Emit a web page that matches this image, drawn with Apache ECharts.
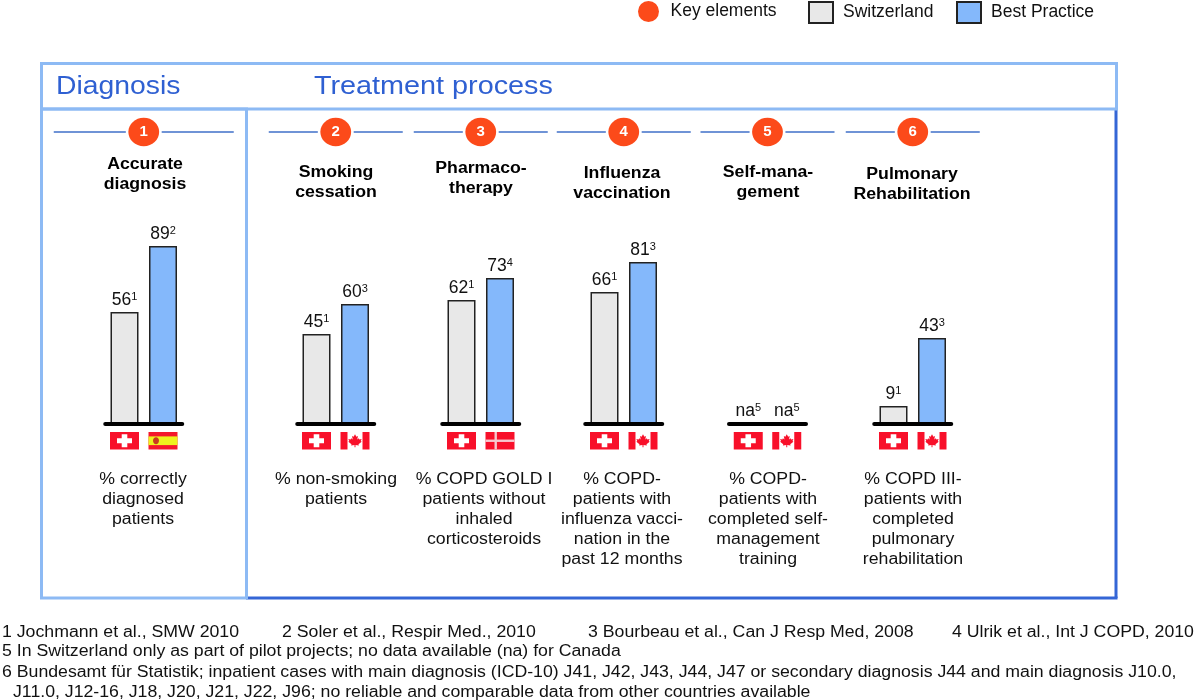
<!DOCTYPE html>
<html><head><meta charset="utf-8">
<style>html,body{margin:0;padding:0;background:#fff}#c{width:1200px;height:700px}</style>
<script src="https://cdn.jsdelivr.net/npm/echarts@6/dist/echarts.min.js"></script>
</head><body><div id="c"></div>
<script>
const panelNames = [['Accurate','diagnosis'],['Smoking','cessation'],['Pharmaco-','therapy'],['Influenza','vaccination'],['Self-mana-','gement'],['Pulmonary','Rehabilitation']];
const switzerlandValues = [56,45,62,66,null,9];
const bestPracticeValues = [89,60,73,81,null,43];
const switzerlandRefs = ['1','1','1','1','5','1'];
const bestPracticeRefs = ['2','3','4','3','5','3'];
const bestPracticeCountries = ['Spain','Canada','Denmark','Canada','Canada','Canada'];
const measures = [
 ['% correctly','diagnosed','patients'],
 ['% non-smoking','patients'],
 ['% COPD GOLD I','patients without','inhaled','corticosteroids'],
 ['% COPD-','patients with','influenza vacci-','nation in the','past 12 months'],
 ['% COPD-','patients with','completed self-','management','training'],
 ['% COPD III-','patients with','completed','pulmonary','rehabilitation']
];
const footnotes = [
 ['1 Jochmann et al., SMW 2010',2,633],['2 Soler et al., Respir Med., 2010',282,633],
 ['3 Bourbeau et al., Can J Resp Med, 2008',588,633],['4 Ulrik et al., Int J COPD, 2010',952,633],
 ['5 In Switzerland only as part of pilot projects; no data available (na) for Canada',2,652],
 ['6 Bundesamt für Statistik; inpatient cases with main diagnosis (ICD-10) J41, J42, J43, J44, J47 or secondary diagnosis J44 and main diagnosis J10.0,',2,673],
 ['J11.0, J12-16, J18, J20, J21, J22, J96; no reliable and comparable data from other countries available',13,693]
];

const FONT='"Liberation Sans", Arial, sans-serif';
const ORANGE='#fc4a1a', LIGHT='#8dbaf4', DARK='#3566d6', GREY='#e8e8e8', BLUE='#84b8fb', RED='#f8102a';
const gridLefts=[105.25,297.25,442.25,585.25,729,874.25];
const nameX=[145,336,481,622,768,912];
const nameY=[164,172,168,173,172,174];
const descX=[143,336,484,622,768,913];
const BASE=424, HEADY=132, WIDE=1.106;

const leaf=[[0,-1],[.2,-.6],[.42,-.72],[.33,-.2],[.55,-.38],[.62,-.2],[.95,-.28],[.82,.05],[.95,.15],[.5,.55],[.55,.72],[.07,.65],[.07,1],[-.07,1],[-.07,.65],[-.55,.72],[-.5,.55],[-.95,.15],[-.82,.05],[-.95,-.28],[-.62,-.2],[-.55,-.38],[-.33,-.2],[-.42,-.72],[-.2,-.6]];
function rect(x,y,w,h,fill){return {type:'rect',shape:{x,y,width:w,height:h},style:{fill}};}
function flag(kind,cx,top){
  const w=29,h=17.5,x=cx-w/2,y=top,my=y+h/2,out=[];
  if(kind==='Switzerland'){out.push(rect(x,y,w,h,RED),rect(cx-7.5,my-2.5,15,5,'#fff'),rect(cx-2.8,my-6.5,5.6,13,'#fff'));}
  else if(kind==='Canada'){out.push(rect(x,y,w,h,'#fff'),rect(x,y,7,h,RED),rect(x+w-7,y,7,h,RED));
    out.push({type:'polygon',shape:{points:leaf.map(p=>[cx+p[0]*7,my+p[1]*6.5])},style:{fill:RED}});}
  else if(kind==='Spain'){out.push(rect(x,y,w,h,'#f4172c'),rect(x,y+4.4,w,8.7,'#eef21e'),
    {type:'ellipse',shape:{cx:cx-7,cy:my,rx:3,ry:3.4},style:{fill:'#c8391f'}});}
  else if(kind==='Denmark'){out.push(rect(x,y,w,h,RED),rect(x,my-1.2,w,2.4,'#f6c9cf'),rect(x+9,y,2.4,h,'#f6c9cf'));}
  return out;
}
const grid=[],xAxis=[],yAxis=[],series=[],graphic=[];
function frame(x,y,w,h,stroke){return {type:'rect',shape:{x,y,width:w,height:h},style:{fill:'none',stroke,lineWidth:3},z:1};}
function wideText(text,x,y,font,fill,align,lineHeight,sx,vAlign){
  return {type:'text',x,y,scaleX:sx||WIDE,z:2,style:{text,x:0,y:0,font,fill,align:align||'left',lineHeight,verticalAlign:vAlign||'top'}};
}
graphic.push(
  {type:'line',shape:{x1:1116,y1:109,x2:1116,y2:598},style:{stroke:DARK,lineWidth:3},z:1},
  {type:'line',shape:{x1:246,y1:598,x2:1117.5,y2:598},style:{stroke:DARK,lineWidth:3},z:1},
  frame(41.5,109,205,489,LIGHT),
  frame(41.5,63.5,1075,45.5,LIGHT),
  wideText('Diagnosis',56,87,'26px '+FONT,'#2f60d2','left',30,1.09,'middle'),
  wideText('Treatment process',314,87,'26px '+FONT,'#2f60d2','left',30,1.107,'middle')
);
panelNames.forEach((n,i)=>{
  graphic.push(wideText(n.join('\n'),nameX[i],nameY[i]-9,'bold 16px '+FONT,'#000','center',20));
  graphic.push(wideText(measures[i].join('\n'),descX[i],470,'16px '+FONT,'#111','center',20));
});
footnotes.forEach(f=>graphic.push(wideText(f[0],f[1],f[2],'16px '+FONT,'#111','left',20,WIDE,'middle')));

function barLabel(){return {show:true,position:'top',distance:3,color:'#111',
  formatter:p=>'{v|'+p.data.labelText+'}{s|'+p.data.ref+'}',
  rich:{v:{fontSize:17.5,fontFamily:FONT,color:'#111',verticalAlign:'bottom',lineHeight:18},s:{fontSize:11,fontFamily:FONT,color:'#111',verticalAlign:'top',lineHeight:18}}};}

panelNames.forEach((_,i)=>{
  const cats=['Switzerland',bestPracticeCountries[i]];
  grid.push({left:gridLefts[i],width:77,top:BASE-200,height:200});
  xAxis.push({type:'category',gridIndex:i,data:cats,axisTick:{show:false},axisLabel:{show:false},
    axisLine:{show:true,lineStyle:{color:'#000',width:4,cap:'round'}},z:5});
  yAxis.push({type:'value',gridIndex:i,min:0,max:100,show:false,splitLine:{show:false}});
  const mk=(v,r,slot)=>{const a=['-','-'];a[slot]={value:v==null?0:v,labelText:v==null?'na':String(v),ref:r};return a;};
  series.push({name:'Switzerland',type:'bar',xAxisIndex:i,yAxisIndex:i,barWidth:28,barGap:'-100%',
    data:mk(switzerlandValues[i],switzerlandRefs[i],0),itemStyle:{color:GREY,borderColor:'#222',borderWidth:1.5},label:barLabel(),animation:false});
  series.push({name:'Best Practice',type:'bar',xAxisIndex:i,yAxisIndex:i,barWidth:28,barGap:'-100%',
    data:mk(bestPracticeValues[i],bestPracticeRefs[i],1),itemStyle:{color:BLUE,borderColor:'#222',borderWidth:1.5},label:barLabel(),animation:false});
  series.push({name:'Flags',type:'custom',xAxisIndex:i,yAxisIndex:i,silent:true,clip:false,animation:false,data:[[0,0],[1,0]],encode:{x:0,y:1},
    renderItem:(p,api)=>{const pt=api.coord([api.value(0),0]);
      return {type:'group',children:flag(cats[api.value(0)],pt[0],432)};}});
  series.push({name:'Key elements',type:'custom',xAxisIndex:i,yAxisIndex:i,silent:true,clip:false,animation:false,data:[[0,0]],encode:{x:0,y:1},
    itemStyle:{color:ORANGE},
    renderItem:(p,api)=>{const c=p.coordSys,cx=c.x+c.width/2,half=i===0?90:67;
      return {type:'group',children:[
        {type:'line',shape:{x1:cx-half,y1:HEADY,x2:cx+half,y2:HEADY},style:{stroke:'#3f6fc8',lineWidth:1.3}},
        {type:'ellipse',shape:{cx,cy:HEADY,rx:18,ry:17},style:{fill:'#fff'}},
        {type:'ellipse',shape:{cx,cy:HEADY,rx:15.4,ry:14.2},style:{fill:ORANGE}},
        {type:'text',style:{text:String(i+1),x:cx,y:HEADY,fill:'#fff',align:'center',verticalAlign:'middle',font:'bold 15px '+FONT}}
      ]};}});
});
const lg=(name,icon,left)=>({show:true,selectedMode:false,left,top:1,orient:'horizontal',padding:0,itemWidth:24,itemHeight:21,
  data:[{name,icon}],textStyle:{fontSize:17.5,fontFamily:FONT,color:'#111',padding:[4,0,0,5]}});
const chart=echarts.init(document.getElementById('c'));
chart.setOption({animation:false,backgroundColor:'#fff',
  legend:[lg('Key elements','circle',638),lg('Switzerland','rect',808),lg('Best Practice','rect',956)],
  grid,xAxis,yAxis,series,graphic});
</script></body></html>
